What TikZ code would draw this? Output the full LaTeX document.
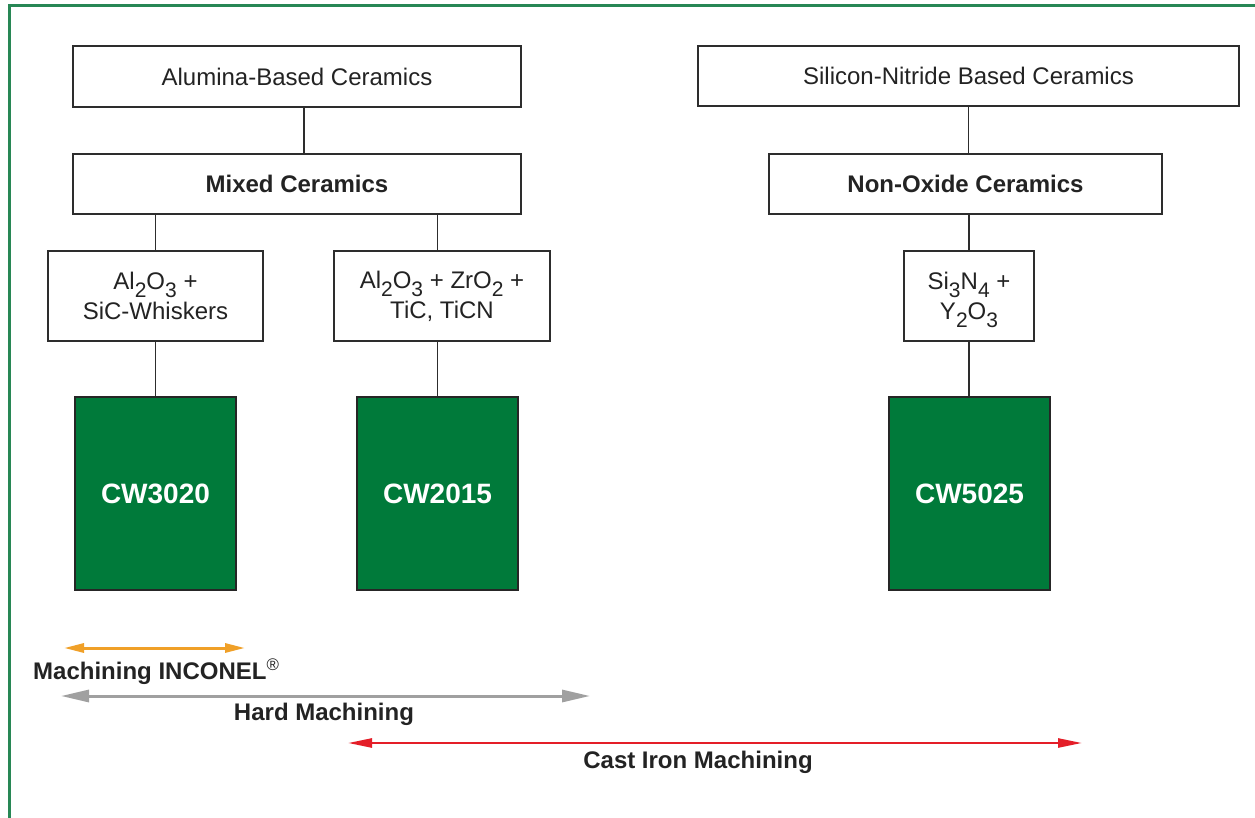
\documentclass[tikz,border=0pt]{standalone}
\usepackage{fontspec}
\setmainfont{Liberation Sans}
\usetikzlibrary{arrows.meta}
\definecolor{sgreen}{RGB}{0,122,58}
\definecolor{frameg}{RGB}{40,135,85}
\definecolor{boxline}{RGB}{45,45,45}
\definecolor{txtc}{RGB}{35,35,35}
\definecolor{arrorange}{RGB}{240,160,40}
\definecolor{arrgray}{RGB}{160,160,160}
\definecolor{arrred}{RGB}{228,30,40}
\newcommand{\sbs}[1]{\smash{\raisebox{-0.34em}{\fontsize{21}{21}\selectfont #1}}}
\begin{document}
\begin{tikzpicture}[x=1pt,y=-1pt,
  wbox/.style={draw=boxline, line width=1.8pt, fill=white, inner sep=0pt, align=center, text=txtc, font=\fontsize{24}{30}\selectfont},
  gbox/.style={draw=black!85, line width=1.8pt, fill=sgreen, inner sep=0pt, text=white, minimum width=161pt, minimum height=193pt, font=\fontsize{28}{30}\selectfont\bfseries},
  link/.style={draw=boxline, line width=1.8pt},
  lbl/.style={font=\fontsize{24}{26}\selectfont\bfseries, inner sep=0pt, text=txtc},
  spanline/.style={line width=3pt}
]
\useasboundingbox (0,0) rectangle (1255,818);
\fill[white] (0,0) rectangle (1255,818);
\draw[frameg, line width=3pt] (9.5,818) -- (9.5,6) -- (1255,6);

% left column
\node[wbox, minimum width=448pt, minimum height=61pt] (alu) at (297,76.5) {Alumina-Based Ceramics};
\node[wbox, minimum width=448pt, minimum height=60pt] (mixed) at (297,184) {\bfseries Mixed Ceramics};
\node[wbox, minimum width=215pt, minimum height=90pt] (al1) at (155.5,296) {Al\sbs{2}O\sbs{3} +\\SiC-Whiskers};
\node[wbox, minimum width=216pt, minimum height=90pt] (al2) at (442,296) {Al\sbs{2}O\sbs{3} + ZrO\sbs{2} +\\TiC, TiCN};
\node[gbox] (cw3020) at (155.5,493.5) {CW3020};
\node[gbox] (cw2015) at (437.5,493.5) {\raisebox{-4pt}{CW2015}};

% right column
\node[wbox, minimum width=541pt, minimum height=60pt] (sin) at (968.5,76) {Silicon-Nitride Based Ceramics};
\node[wbox, minimum width=393pt, minimum height=60pt] (nonox) at (965.5,184) {\bfseries Non-Oxide Ceramics};
\node[wbox, minimum width=130pt, minimum height=90pt] (si3n4) at (969,296) {Si\sbs{3}N\sbs{4} +\\Y\sbs{2}O\sbs{3}};
\node[gbox] (cw5025) at (969.5,493.5) {CW5025};

% connectors
\draw[link] ([xshift=7pt]alu.south) -- ([xshift=7pt]mixed.north);
\draw[link] (mixed.south -| al1.north) -- (al1.north);
\draw[link] (mixed.south -| cw2015.north) -- (al2.north -| cw2015.north);
\draw[link] (al1.south) -- (cw3020.north);
\draw[link] (al2.south -| cw2015.north) -- (cw2015.north);
\draw[link] (sin.south) -- (sin.south |- nonox.north);
\draw[link] (nonox.south -| si3n4.north) -- (si3n4.north);
\draw[link] (si3n4.south) -- (si3n4.south |- cw5025.north);

% ranges
\coordinate (o1) at (64,648); \coordinate (o2) at (245,648);
\coordinate (g1) at (61,696); \coordinate (g2) at (590,696);
\coordinate (r1) at (348,743); \coordinate (r2) at (1082,743);
\draw[spanline, arrorange, {Triangle[length=20pt,width=9pt]}-{Triangle[length=20pt,width=9pt]}] (o1) -- (o2);
\draw[spanline, arrgray, {Triangle[length=28pt,width=12pt]}-{Triangle[length=28pt,width=12pt]}] (g1) -- (g2);
\draw[spanline, arrred, line width=2.5pt, {Triangle[length=24pt,width=9pt]}-{Triangle[length=24pt,width=9pt]}] (r1) -- (r2);

\node[lbl, anchor=west] (inc) at (33,672) {Machining INCONEL\textsuperscript{\textmd{\textregistered}}};
\node[lbl] (hard) at (324,714) {Hard Machining};
\node[lbl] (cast) at (698,762) {Cast Iron Machining};
\end{tikzpicture}
\end{document}
